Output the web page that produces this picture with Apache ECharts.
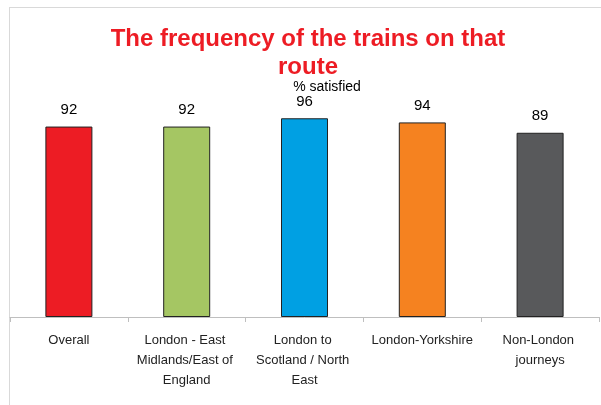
<!DOCTYPE html>
<html>
<head>
<meta charset="utf-8">
<script src="https://cdn.jsdelivr.net/npm/echarts@6/dist/echarts.min.js"></script>
<style>
  html, body { margin: 0; padding: 0; background: #fff; }
  #chart { position: absolute; left: 0; top: 0; width: 601px; height: 405px; }
  #frame { position: absolute; left: 9px; top: 7px; width: 600px; height: 410px; border: 1px solid #d9d9d9; box-sizing: border-box; }
</style>
</head>
<body>
<div id="frame"></div>
<div id="chart"></div>
<script>
// Chart data
const categories = ['Overall', 'London - East Midlands/East of England', 'London to Scotland / North East', 'London-Yorkshire', 'Non-London journeys'];
const satisfied = [92, 92, 96, 94, 89];
const barColors = ['#ED1C24', '#A5C663', '#00A0E3', '#F58220', '#58595B'];

const chartDom = document.getElementById('chart');
const myChart = echarts.init(chartDom);

const option = {
    animation: false,
    title: [
        {
            text: 'The frequency of the trains on that\nroute',
            left: 303,
            textAlign: 'center',
            top: 20,
            textStyle: {
                color: '#ED1C24',
                fontFamily: 'Liberation Sans',
                fontWeight: 'bold',
                fontSize: 24,
                lineHeight: 28
            }
        },
        {
            text: '% satisfied',
            left: 322,
            textAlign: 'center',
            top: 75,
            textStyle: {
                color: '#000',
                fontFamily: 'Liberation Sans',
                fontWeight: 'normal',
                fontSize: 14
            }
        }
    ],
    grid: {
        left: 10,
        right: 2,
        top: 110,
        bottom: 88
    },
    xAxis: {
        type: 'category',
        data: categories,
        axisLine: { lineStyle: { color: '#bfbfbf', width: 1 } },
        axisTick: { show: true, length: 5, lineStyle: { color: '#bfbfbf' } },
        axisLabel: {
            interval: 0,
            margin: 13,
            width: 112,
            overflow: 'break',
            color: '#222',
            fontFamily: 'Liberation Sans',
            fontSize: 13,
            lineHeight: 20
        }
    },
    yAxis: {
        type: 'value',
        min: 0,
        max: 100,
        show: false,
        splitLine: { show: false }
    },
    series: [
        {
            type: 'bar',
            barWidth: 47,
            data: satisfied.map((v, i) => ({
                value: v,
                itemStyle: { color: barColors[i] }
            })),
            itemStyle: { borderColor: '#222', borderWidth: 1 },
            label: {
                show: true,
                position: 'top',
                distance: 9,
                color: '#000',
                fontFamily: 'Liberation Sans',
                fontSize: 15
            }
        }
    ]
};

myChart.setOption(option);
</script>
</body>
</html>
